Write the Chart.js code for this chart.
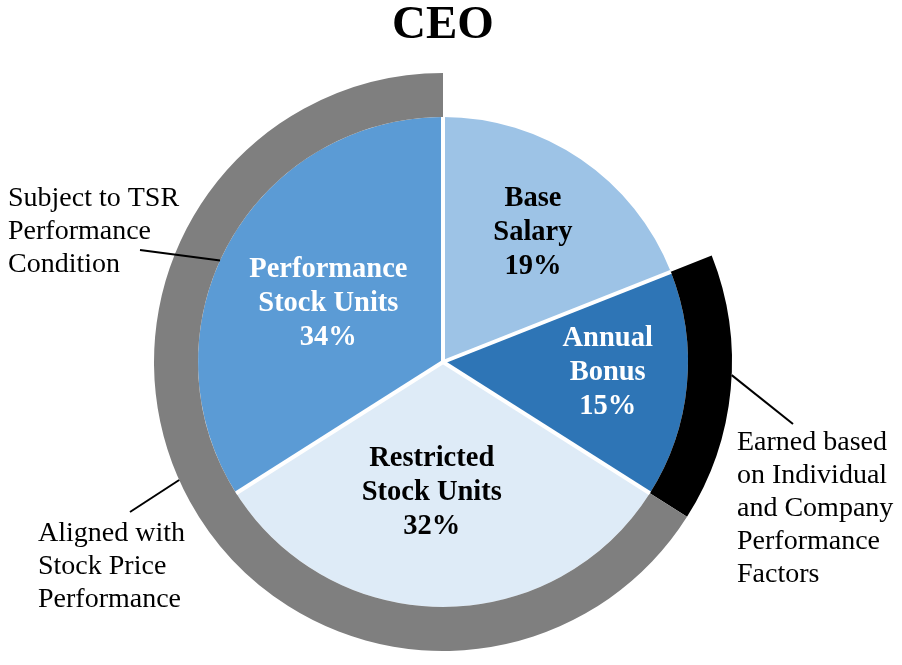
<!DOCTYPE html>
<html><head><meta charset="utf-8">
<script src="https://cdn.jsdelivr.net/npm/chart.js@4.4.0/dist/chart.umd.min.js"></script>
<style>html,body{margin:0;padding:0;background:#fff}#wrap{width:902px;height:665px;position:relative}</style>
</head><body><div id="wrap"><canvas id="c"></canvas></div>
<script>
// ---- data ----
const categories = ['Base Salary', 'Annual Bonus', 'Restricted Stock Units', 'Performance Stock Units'];
const sliceLabelLines = [['Base', 'Salary'], ['Annual', 'Bonus'], ['Restricted', 'Stock Units'], ['Performance', 'Stock Units']];
const values = [19, 15, 32, 34];
const ringCategories = ['Base Salary', 'Annual Bonus', 'Equity (RSU + PSU)'];
const ringValues = [19, 15, 66];
const annotationTexts = [
  ['Subject to TSR', 'Performance', 'Condition'],
  ['Aligned with', 'Stock Price', 'Performance'],
  ['Earned based', 'on Individual', 'and Company', 'Performance', 'Factors']
];

// ---- styles ----
const sliceColors = ['#9DC3E6', '#2E75B6', '#DEEBF7', '#5B9BD5'];
const sliceTextColors = ['#000000', '#FFFFFF', '#000000', '#FFFFFF'];
const ringColors = ['rgba(0,0,0,0)', '#000000', '#7F7F7F'];
const labelRadiusFrac = [0.653, 0.673, 0.527, 0.53];
const labelAngleTweakDeg = [0, -2.4, 5, -0.8];
const SERIF = '"Liberation Serif", "Times New Roman", serif';
// annotation layout: text left/first-line-center relative to pie centre, leader start relative to centre,
// leader end given as angle (deg clockwise from 12 o'clock) and which radius (pie edge or ring outer edge)
const annotationLayout = [
  {tx: -435, ty: -166, lx: -303, ly: -112, angle: 294.5, edge: 'pie'},
  {tx: -405, ty: 169, lx: -313, ly: 150, angle: 245.9, edge: 'ring'},
  {tx: 294, ty: 78, lx: 350, ly: 62, angle: 92.6, edge: 'ring'}
];

const decorPlugin = {
  id: 'decor',
  afterDatasetsDraw(chart) {
    const ctx = chart.ctx;
    const pieMeta = chart.getDatasetMeta(1);
    const ringMeta = chart.getDatasetMeta(0);
    const arcs = pieMeta.data;
    const cx = arcs[0].x, cy = arcs[0].y;
    const rPie = arcs[0].outerRadius;
    const rRing = ringMeta.data[0].outerRadius;
    ctx.save();
    // white separators between pie slices
    ctx.strokeStyle = '#FFFFFF';
    ctx.lineWidth = 4;
    ctx.lineCap = 'butt';
    arcs.forEach(a => {
      ctx.beginPath();
      ctx.moveTo(cx, cy);
      ctx.lineTo(cx + Math.cos(a.startAngle) * rPie, cy + Math.sin(a.startAngle) * rPie);
      ctx.stroke();
    });
    // slice labels
    ctx.textAlign = 'center';
    ctx.textBaseline = 'middle';
    ctx.font = 'bold 28.5px ' + SERIF;
    arcs.forEach((a, i) => {
      const mid = (a.startAngle + a.endAngle) / 2 + labelAngleTweakDeg[i] * Math.PI / 180;
      const r = rPie * labelRadiusFrac[i];
      const x = cx + Math.cos(mid) * r;
      const y = cy + Math.sin(mid) * r + 2.5;
      const lines = sliceLabelLines[i].concat([values[i] + '%']);
      ctx.fillStyle = sliceTextColors[i];
      const lh = 34;
      lines.forEach((t, k) => ctx.fillText(t, x, y + (k - (lines.length - 1) / 2) * lh));
    });
    // annotations
    ctx.font = '28px ' + SERIF;
    ctx.textAlign = 'left';
    ctx.fillStyle = '#000000';
    ctx.strokeStyle = '#000000';
    ctx.lineWidth = 2;
    annotationTexts.forEach((lines, i) => {
      const L = annotationLayout[i];
      lines.forEach((t, k) => ctx.fillText(t, cx + L.tx, cy + L.ty + 2.5 + k * 33));
      const ang = (L.angle - 90) * Math.PI / 180;
      const rr = L.edge === 'pie' ? rPie : rRing;
      ctx.beginPath();
      ctx.moveTo(cx + L.lx, cy + L.ly);
      ctx.lineTo(cx + Math.cos(ang) * rr, cy + Math.sin(ang) * rr);
      ctx.stroke();
    });
    ctx.restore();
  }
};

new Chart(document.getElementById('c'), {
  type: 'doughnut',
  data: {
    labels: categories,
    datasets: [
      {label: 'Ring', data: ringValues, backgroundColor: ringColors, borderWidth: 0, hoverBorderWidth: 0, hoverOffset: 0, weight: 44},
      {label: 'Pay Mix', data: values, backgroundColor: sliceColors, borderWidth: 0, hoverBorderWidth: 0, hoverOffset: 0, weight: 245}
    ]
  },
  options: {
    responsive: true,
    maintainAspectRatio: false,
    animation: false,
    cutout: 0,
    layout: {padding: {top: 0, bottom: 14, left: 150, right: 166}},
    plugins: {
      legend: {display: false},
      tooltip: {enabled: false},
      title: {
        display: true,
        text: 'CEO',
        color: '#000000',
        font: {family: SERIF, size: 47, weight: 'bold', lineHeight: 1},
        padding: {top: 2, bottom: 24}
      }
    }
  },
  plugins: [decorPlugin]
});
</script>
</body></html>
